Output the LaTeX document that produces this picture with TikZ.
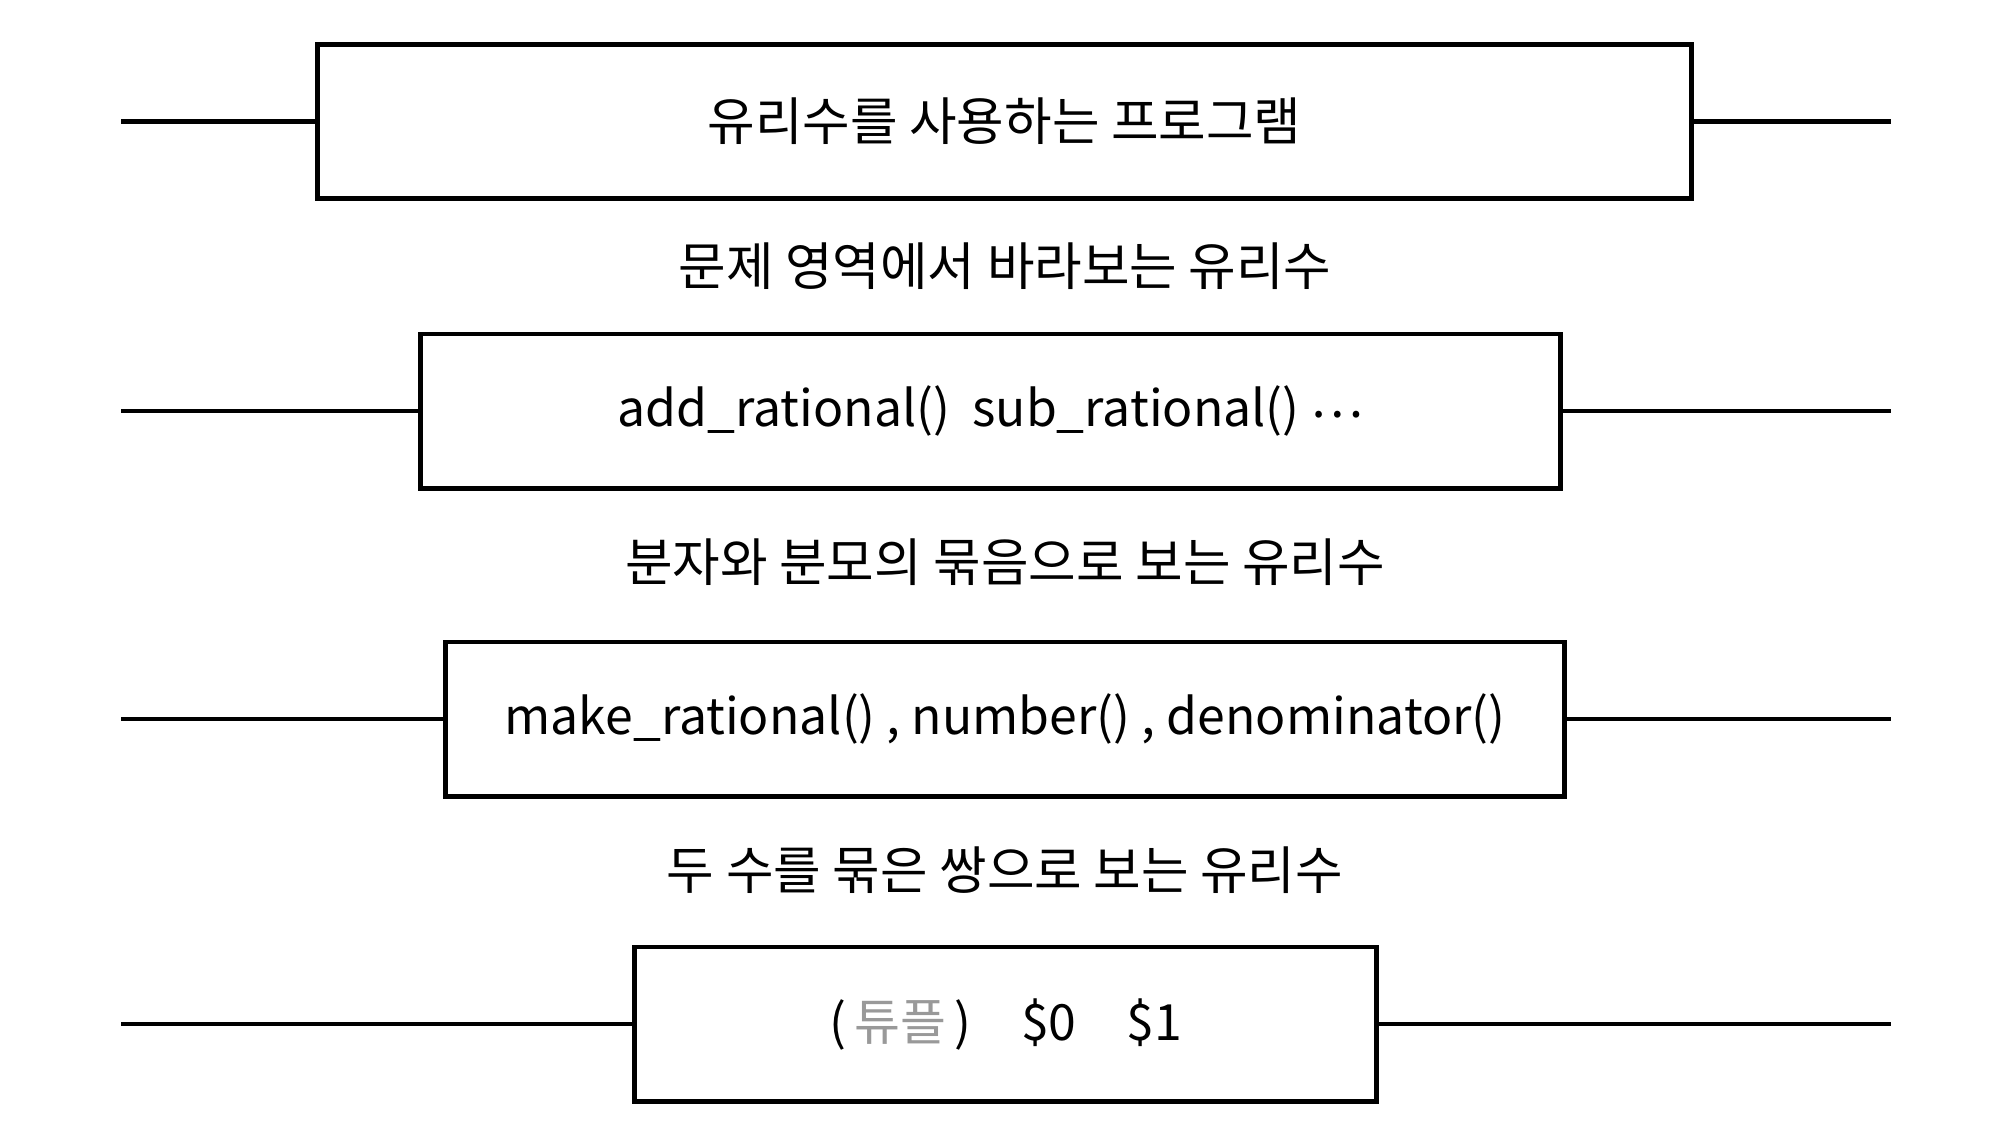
\documentclass[tikz,border=0pt]{standalone}
\usepackage{fontspec}
\setmainfont{Noto Sans CJK KR}
\definecolor{tuplegray}{HTML}{999999}
\begin{document}
\begin{tikzpicture}[x=0.01cm,y=-0.01cm,
  layerbox/.style={draw=black,line width=1.4pt,inner sep=0pt,minimum height=1.54cm,font=\fontsize{14.7}{18}\selectfont},
  codefont/.style={font=\fontsize{14.2}{18}\selectfont},
  wire/.style={line width=1.4pt},
  caption/.style={inner sep=0pt,font=\fontsize{14.7}{18}\selectfont}]
\useasboundingbox (0,0) rectangle (1994,1138);
\node[layerbox,minimum width=13.73cm] (b1) at (1004.5,121.5) {유리수를 사용하는 프로그램};
\node[caption] (c1) at (1005,266) {문제 영역에서 바라보는 유리수};
\node[layerbox,codefont,minimum width=11.39cm] (b2) at (990.5,411) {add\_rational()\ \ sub\_rational() \raisebox{0.35ex}{…}};
\node[caption] (c2) at (1005,562) {분자와 분모의 묶음으로 보는 유리수};
\node[layerbox,codefont,minimum width=11.18cm] (b3) at (1005,719) {make\_rational() , number() , denominator()};
\node[caption] (c3) at (1005,870) {두 수를 묶은 쌍으로 보는 유리수};
\node[layerbox,codefont,minimum width=7.41cm] (b4) at (1005.5,1024) {(\,{\color{tuplegray}튜플}\,)\hspace{1em}\$0\hspace{1em}\$1};
\coordinate (l1) at (121,121.5); \coordinate (r1) at (1891,121.5);
\coordinate (l2) at (121,411); \coordinate (r2) at (1891,411);
\coordinate (l3) at (121,719); \coordinate (r3) at (1891,719);
\coordinate (l4) at (121,1024); \coordinate (r4) at (1891,1024);
\draw[wire] (l1) -- (b1.west); \draw[wire] (b1.east) -- (r1);
\draw[wire] (l2) -- (b2.west); \draw[wire] (b2.east) -- (r2);
\draw[wire] (l3) -- (b3.west); \draw[wire] (b3.east) -- (r3);
\draw[wire] (l4) -- (b4.west); \draw[wire] (b4.east) -- (r4);
\end{tikzpicture}
\end{document}
